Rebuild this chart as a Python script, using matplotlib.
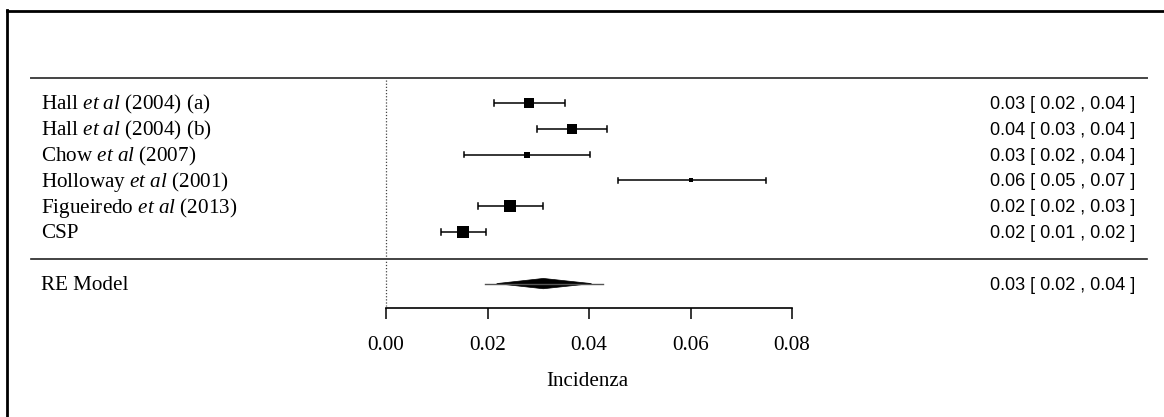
import matplotlib
matplotlib.use("Agg")
import matplotlib.pyplot as plt
from matplotlib.lines import Line2D
from matplotlib.patches import Polygon

plt.rcParams['mathtext.fontset'] = 'custom'
plt.rcParams['mathtext.rm'] = 'Liberation Serif'
plt.rcParams['mathtext.it'] = 'Liberation Serif:italic'

# ---- data ----
authors = ["Hall", "Hall", "Chow", "Holloway", "Figueiredo", "CSP"]
suffixes = [" (2004) (a)", " (2004) (b)", " (2007)", " (2001)", " (2013)", ""]
has_etal = [True, True, True, True, True, False]
est = [0.0282, 0.0366, 0.0277, 0.0601, 0.0244, 0.0152]
ci_lo = [0.0213, 0.0297, 0.0154, 0.0457, 0.0181, 0.0108]
ci_hi = [0.0353, 0.0436, 0.0402, 0.0748, 0.0309, 0.0197]
sq_size = [7.4, 7.6, 3.9, 3.4, 8.4, 8.9]
re_label = "RE Model"
re_est, re_lo, re_hi = 0.0310, 0.0218, 0.0405
pi_lo, pi_hi = 0.0196, 0.0428
xticks = [0.00, 0.02, 0.04, 0.06, 0.08]
xlabel = "Incidenza"

W, H = 1164, 417
fig = plt.figure(figsize=(W / 100, H / 100), dpi=100)
ax = fig.add_axes([0, (H - 308) / H, 1, 308 / H])
pxu = 0.02 / 101.5
ax.set_xlim(-386 * pxu, (W - 386) * pxu)
rowpx = 25.8
ax.set_ylim((308 - 103) / rowpx, -103 / rowpx)

serif = 'Liberation Serif'
sans = 'Liberation Sans'
fs_lab = 15.2
fs_ann = 13
xl_text = -345 * pxu
xr_text = 749 * pxu
txt_dy = 0.06

n = len(est)
for i in range(n):
    y = i
    ax.plot([ci_lo[i], ci_hi[i]], [y, y], color='black', lw=1.1, solid_capstyle='butt')
    for xv in (ci_lo[i], ci_hi[i]):
        ax.plot([xv, xv], [y - 0.11, y + 0.11], color='black', lw=1.1)
    ax.plot(est[i], y, marker='s', ms=sq_size[i], color='black', mec='black', mew=0)
    if has_etal[i]:
        lab = authors[i] + r" $\mathit{et\ al}$" + suffixes[i]
    else:
        lab = authors[i] + suffixes[i]
    ax.text(xl_text, y + txt_dy, lab, ha='left', va='center', fontsize=fs_lab, family=serif)
    ax.text(xr_text, y + txt_dy, f"{est[i]:.2f} [ {ci_lo[i]:.2f} , {ci_hi[i]:.2f} ]",
            ha='right', va='center', fontsize=fs_ann, family=sans)

y_re = 7
h = 0.2
ax.plot([pi_lo, pi_hi], [y_re, y_re], color='#555555', lw=1.0)
ax.add_patch(Polygon([[re_lo, y_re], [re_est, y_re - h], [re_hi, y_re], [re_est, y_re + h]],
                     closed=True, color='black', lw=0.5))
ax.text(xl_text, y_re + txt_dy, re_label, ha='left', va='center', fontsize=fs_lab, family=serif)
ax.text(xr_text, y_re + txt_dy, f"{re_est:.2f} [ {re_lo:.2f} , {re_hi:.2f} ]",
        ha='right', va='center', fontsize=fs_ann, family=sans)

# horizontal rules
x_rule0 = (31 - 386) * pxu
x_rule1 = (1147 - 386) * pxu
ax.plot([x_rule0, x_rule1], [(78 - 103) / rowpx] * 2, color='#444444', lw=1.4)
ax.plot([x_rule0, x_rule1], [(259 - 103) / rowpx] * 2, color='#222222', lw=1.2)
# reference line at 0
ax.plot([0, 0], [(80 - 103) / rowpx, (306 - 103) / rowpx], color='#444444', lw=0.9,
        linestyle=(0, (1, 1.5)))

for s in ['top', 'right', 'left']:
    ax.spines[s].set_visible(False)
ax.spines['bottom'].set_bounds(xticks[0], xticks[-1])
ax.spines['bottom'].set_linewidth(1.2)
ax.set_yticks([])
ax.set_xticks(xticks)
ax.set_xticklabels([f"{t:.2f}" for t in xticks], fontsize=fs_lab, family=serif)
ax.tick_params(axis='x', direction='out', length=8, width=1.1, pad=12)
ax.set_xlabel(xlabel, fontsize=fs_lab, family=serif)
ax.xaxis.set_label_coords(587 / W, -(372 - 308) / 308)
ax.set_facecolor('none')

# figure border (left and top)
fig.add_artist(Line2D([7 / W, 7 / W], [0, 1 - 10 / H], transform=fig.transFigure, color='black', lw=2))
fig.add_artist(Line2D([7 / W, 1], [1 - 11 / H, 1 - 11 / H], transform=fig.transFigure, color='black', lw=2))

fig.savefig("out.png", dpi=100)
